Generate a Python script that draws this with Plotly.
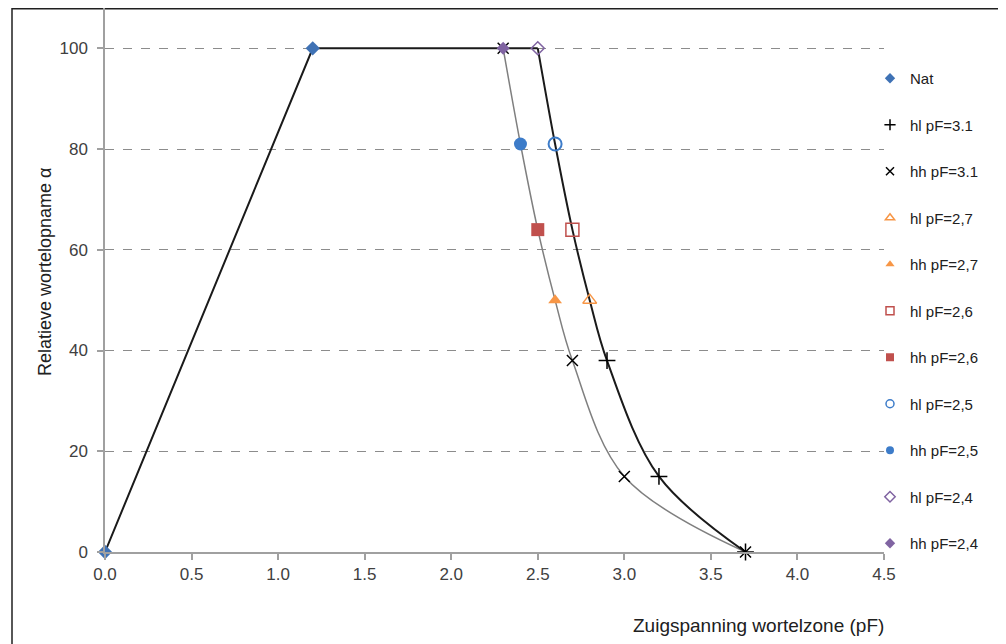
import plotly.graph_objects as go

# ---------------- data ----------------
nat_x = [0.0, 1.2]
nat_y = [0, 100]

plateau_x = [0.0, 1.2, 2.5]
plateau_y = [0, 100, 100]

hl_curve_x = [2.5, 2.6, 2.7, 2.8, 2.9, 3.2, 3.7]
hl_curve_y = [100, 81, 64, 50, 38, 15, 0]
hh_curve_x = [2.3, 2.4, 2.5, 2.6, 2.7, 3.0, 3.7]
hh_curve_y = [100, 81, 64, 50, 38, 15, 0]

hl31_x = [2.9, 3.2, 3.7]
hl31_y = [38, 15, 0]
hh31_x = [2.3, 2.7, 3.0, 3.7]
hh31_y = [100, 38, 15, 0]

hl27_x, hl27_y = [2.8], [50]
hh27_x, hh27_y = [2.6], [50]
hl26_x, hl26_y = [2.7], [64]
hh26_x, hh26_y = [2.5], [64]
hl25_x, hl25_y = [2.6], [81]
hh25_x, hh25_y = [2.4], [81]
hl24_x, hl24_y = [2.5], [100]
hh24_x, hh24_y = [2.3], [100]

x_ticks = [0.0, 0.5, 1.0, 1.5, 2.0, 2.5, 3.0, 3.5, 4.0, 4.5]
y_ticks = [0, 20, 40, 60, 80, 100]

BLUE = "#3F72B5"
ORANGE = "#F79646"
RED = "#C0504D"
CBLUE = "#3D7CC9"
PURPLE = "#8064A2"

fig = go.Figure()

# lines (no legend)
fig.add_trace(go.Scatter(x=hh_curve_x, y=hh_curve_y, mode="lines",
                         line=dict(color="#7f7f7f", width=1.5, shape="spline", smoothing=1.0),
                         showlegend=False, hoverinfo="skip"))
fig.add_trace(go.Scatter(x=plateau_x, y=plateau_y, mode="lines",
                         line=dict(color="#1a1a1a", width=2),
                         showlegend=False, hoverinfo="skip", cliponaxis=False))
fig.add_trace(go.Scatter(x=hl_curve_x, y=hl_curve_y, mode="lines",
                         line=dict(color="#1a1a1a", width=2, shape="spline", smoothing=1.0),
                         showlegend=False, hoverinfo="skip"))

def mk(name, x, y, symbol, color, size, lw=1.5, lsize=8):
    # data marks
    fig.add_trace(go.Scatter(
        x=x, y=y, mode="markers", name=name, legendgroup=name, showlegend=False,
        cliponaxis=False,
        marker=dict(symbol=symbol, color=color, size=size, line=dict(width=lw, color=color)),
    ))
    # small legend swatch
    fig.add_trace(go.Scatter(
        x=[None], y=[None], mode="markers", name=name, legendgroup=name, showlegend=True,
        marker=dict(symbol=symbol, color=color, size=lsize, line=dict(width=min(lw, 1.5), color=color)),
    ))

mk("Nat", nat_x, nat_y, "diamond", BLUE, 11, 0)
mk("hl pF=3.1", hl31_x, hl31_y, "cross-thin", "#000000", 12, 1.5)
mk("hh pF=3.1", hh31_x, hh31_y, "x-thin", "#000000", 11, 1.5)
mk("hl pF=2,7", hl27_x, hl27_y, "triangle-up-open", ORANGE, 12, 1.5)
mk("hh pF=2,7", hh27_x, hh27_y, "triangle-up", ORANGE, 12, 0)
mk("hl pF=2,6", hl26_x, hl26_y, "square-open", RED, 13, 1.5)
mk("hh pF=2,6", hh26_x, hh26_y, "square", RED, 13, 0)
mk("hl pF=2,5", hl25_x, hl25_y, "circle-open", CBLUE, 13, 2)
mk("hh pF=2,5", hh25_x, hh25_y, "circle", CBLUE, 13, 0)
mk("hl pF=2,4", hl24_x, hl24_y, "diamond-open", PURPLE, 10, 1.5)
mk("hh pF=2,4", hh24_x, hh24_y, "diamond", PURPLE, 10, 0)

W, H = 1006, 644
OFF = 8  # page body offset
# target plot area on screen: x 105..884, y 8..552
L, T = 105 - OFF, 8 - OFF
R = W - (884 - OFF)
B = H - (552 - OFF)
pw, ph = W - L - R, H - T - B

def px(xs):
    return (xs - OFF - L) / pw

def py(ys):
    return (H - B - (ys - OFF)) / ph

fig.update_layout(
    width=W, height=H,
    margin=dict(l=L, r=R, t=T, b=B, autoexpand=False),
    paper_bgcolor="white", plot_bgcolor="white",
    font=dict(family="Liberation Sans, Arial, sans-serif", size=17, color="#404040"),
    showlegend=True,
    legend=dict(x=px(870), y=py(62), xanchor="left", yanchor="top",
                font=dict(size=15, color="#202020"),
                traceorder="grouped", tracegroupgap=24,
                itemwidth=30, bgcolor="rgba(0,0,0,0)"),
    xaxis=dict(range=[0, 4.5], tickvals=x_ticks, ticktext=[f"{v:.1f}" for v in x_ticks],
               showgrid=False, zeroline=False, showline=True, linecolor="#a0a0a0", linewidth=1.5,
               ticks="outside", ticklen=6, tickcolor="#a0a0a0", tickwidth=1.5,
               tickfont=dict(size=17, color="#404040")),
    yaxis=dict(range=[0, 108], tickvals=y_ticks,
               showgrid=True, gridcolor="#8c8c8c", griddash="dash", gridwidth=1,
               zeroline=False, showline=True, linecolor="#a0a0a0", linewidth=1.5,
               ticks="outside", ticklen=6, tickcolor="#a0a0a0", tickwidth=1.5,
               tickfont=dict(size=17, color="#404040"), ticklabelstandoff=6),
)

fig.add_annotation(text="Relatieve wortelopname α", xref="paper", yref="paper",
                   x=px(45), y=py(272), textangle=-90, showarrow=False,
                   font=dict(size=18, color="#202020"), xanchor="center", yanchor="middle")
fig.add_annotation(text="Zuigspanning wortelzone (pF)", xref="paper", yref="paper",
                   x=px(886), y=py(625), showarrow=False,
                   font=dict(size=19, color="#202020"), xanchor="right", yanchor="middle")

# outer frame
fig.add_shape(type="rect", xref="paper", yref="paper",
              x0=px(12), x1=px(1030), y0=py(680), y1=py(8.8),
              line=dict(color="#202020", width=1.5), fillcolor="rgba(0,0,0,0)", layer="below")

fig.write_html("out.html")
